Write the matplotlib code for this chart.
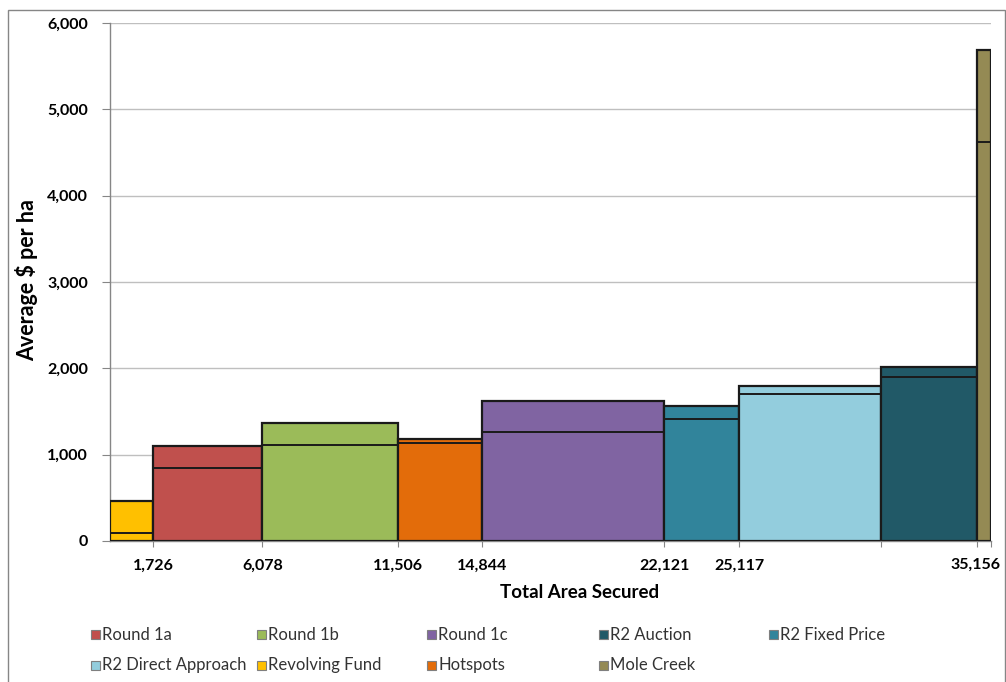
import matplotlib
matplotlib.use("Agg")
import matplotlib.pyplot as plt
from matplotlib.patches import Rectangle
import numpy as np

# Programs in the order they are stacked along the area axis
programs = ["Revolving Fund", "Round 1a", "Round 1b", "Hotspots", "Round 1c",
            "R2 Fixed Price", "R2 Direct Approach", "R2 Auction", "Mole Creek"]
# Cumulative area secured (ha) at the right edge of each program
cum_area = [1726, 6078, 11506, 14844, 22121, 25117, 30760, 34600, 35156]
# Average $ per ha (upper value) and lower reference level for each program
avg_upper = [465, 1098, 1372, 1179, 1620, 1563, 1798, 2015, 5684]
avg_lower = [93, 845, 1113, 1140, 1260, 1415, 1698, 1895, 4622]
# Labelled cumulative areas on the x axis
labelled_area = [1726, 6078, 11506, 14844, 22121, 25117, 35156]

legend_order = ["Round 1a", "Round 1b", "Round 1c", "R2 Auction", "R2 Fixed Price",
                "R2 Direct Approach", "Revolving Fund", "Hotspots", "Mole Creek"]

colors = {
    "Round 1a": "#C0504D",
    "Round 1b": "#9BBB59",
    "Round 1c": "#8064A2",
    "R2 Auction": "#215967",
    "R2 Fixed Price": "#31849B",
    "R2 Direct Approach": "#93CDDD",
    "Revolving Fund": "#FFC000",
    "Hotspots": "#E36C0A",
    "Mole Creek": "#948A54",
}

FONT = "Lato"
W, H = 1006, 682
fig = plt.figure(figsize=(W / 100, H / 100), dpi=100)
ax = fig.add_axes([110 / W, 1 - 541 / H, (991 - 110) / W, (541 - 23) / H])

edges = np.array(cum_area)
lefts = np.concatenate([[0], edges[:-1]])
widths = edges - lefts

ax.bar(lefts, avg_upper, width=widths, align="edge",
       color=[colors[p] for p in programs], edgecolor="#1a1a1a",
       linewidth=1.6, zorder=3)
ax.hlines(avg_lower, lefts, edges, colors="#1a1a1a", linewidth=1.4, zorder=4)

ax.set_xlim(0, 35156)
ax.set_ylim(0, 6000)
ax.set_yticks(np.arange(0, 6001, 1000))
ax.set_yticklabels([f"{v:,}" for v in range(0, 6001, 1000)],
                   fontsize=11.5, fontweight="bold", family=FONT)
ax.yaxis.grid(True, color="#BFBFBF", linewidth=1.0, zorder=0)
ax.set_axisbelow(True)

# ticks at every program boundary, labels only at the named areas;
# the final total is written separately so it stays inside the frame
tick_text = [f"{v:,}" if (v in labelled_area and v != edges[-1]) else "" for v in edges]
ax.set_xticks(list(edges))
ax.set_xticklabels(tick_text, fontsize=11.5, fontweight="bold", family=FONT)
ax.annotate(f"{edges[-1]:,}", xy=(edges[-1], 0), xycoords=("data", "axes fraction"),
            xytext=(-16, -24), textcoords="offset pixels", ha="center", va="center",
            fontsize=11.5, fontweight="bold", family=FONT)

ax.tick_params(axis="y", length=6, color="#868686", pad=10)
ax.tick_params(axis="x", length=4, color="#868686", pad=9)
for s in ("top", "right"):
    ax.spines[s].set_visible(False)
for s in ("left", "bottom"):
    ax.spines[s].set_color("#868686")
    ax.spines[s].set_linewidth(1.0)

fig.text(27 / W, 1 - 280 / H, "Average $ per ha", rotation=90, ha="center", va="center",
         fontsize=15.5, fontweight="bold", family=FONT)
fig.text(580 / W, 1 - 593 / H, "Total Area Secured", ha="center", va="center",
         fontsize=13.5, fontweight="bold", family=FONT)

# legend laid out in two rows
col_x = [91, 257, 427, 599, 769]
row_y = [634.5, 665]
for i, name in enumerate(legend_order):
    r, c = divmod(i, 5)
    x0, yc = col_x[c], row_y[r]
    fig.patches.append(Rectangle((x0 / W, 1 - (yc + 4.5) / H), 8.5 / W, 9 / H,
                                 transform=fig.transFigure, facecolor=colors[name],
                                 edgecolor="#7f7f7f", linewidth=0.8))
    fig.text((x0 + 11.5) / W, 1 - yc / H, name, ha="left", va="center",
             fontsize=12, family=FONT, color="#333333")

# outer chart frame
fig.patches.append(Rectangle((8 / W, -0.05), (1005 - 8) / W, 1.05 - 10 / H,
                             transform=fig.transFigure, facecolor="none",
                             edgecolor="#868686", linewidth=1.0))

fig.savefig("out.png", dpi=100)
